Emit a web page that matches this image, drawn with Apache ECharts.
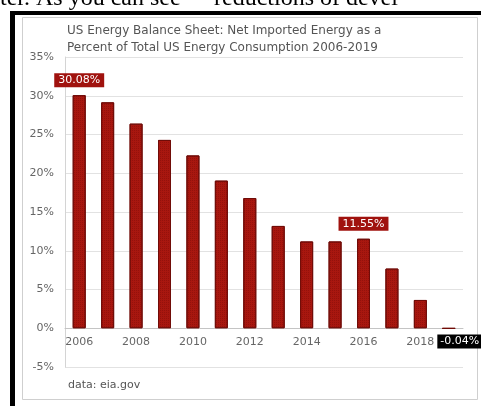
<!DOCTYPE html>
<html>
<head>
<meta charset="utf-8">
<script src="https://cdn.jsdelivr.net/npm/echarts@6/dist/echarts.min.js"></script>
<style>
  html, body { margin: 0; padding: 0; background: #ffffff; }
  #chart { width: 481px; height: 406px; }
</style>
</head>
<body>
<div id="chart"></div>
<script>
// Net imported energy as a share of total US energy consumption
const years = ['2006', '2007', '2008', '2009', '2010', '2011', '2012',
               '2013', '2014', '2015', '2016', '2017', '2018', '2019'];
const netImportShare = [30.08, 29.15, 26.4, 24.3, 22.3, 19.05, 16.8,
                        13.2, 11.2, 11.2, 11.55, 7.7, 3.65, -0.04];
// Years whose value is printed in a tag above/below the bar
const taggedYears = ['2006', '2016', '2019'];
const yAxisMin = -5;
const yAxisMax = 35;
const yAxisStep = 5;

const titleLines = [
  'US Energy Balance Sheet: Net Imported Energy as a',
  'Percent of Total US Energy Consumption 2006-2019'
];
const sourceNote = 'data: eia.gov';
const pageTextLeft = 'ter. As you can see';
const pageTextRight = 'reductions of devel';

const FONT = 'DejaVu Sans';
const BAR_RED = '#a8170f';

const GRID_TOP = 57;
const GRID_BOTTOM = 39;
const CHART_H = 406;

const chart = echarts.init(document.getElementById('chart'), null, { renderer: 'canvas' });

// the category axis sits on the 0% line: shift it up from the bottom edge
const plotH = CHART_H - GRID_TOP - GRID_BOTTOM;
const zeroShift = plotH * (0 - yAxisMin) / (yAxisMax - yAxisMin);

const barData = netImportShare.map((v, i) => {
  const item = { value: v };
  if (taggedYears.includes(years[i])) {
    const negative = v < 0;
    item.label = negative ? {
      show: true,
      position: 'inside',
      offset: [11, 13],
      backgroundColor: '#000000',
      color: '#ffffff',
      padding: [2, 3, 1, 3],
      fontSize: 11,
      fontFamily: FONT,
      formatter: p => p.value.toFixed(2) + '%'
    } : {
      show: true,
      position: 'top',
      distance: 8,
      backgroundColor: '#a0120e',
      color: '#ffffff',
      padding: [2, 4, 1, 4],
      fontSize: 11,
      fontFamily: FONT,
      formatter: p => p.value.toFixed(2) + '%'
    };
  }
  return item;
});

chart.setOption({
  animation: false,
  backgroundColor: '#ffffff',
  aria: { enabled: true, decal: { show: true } },
  title: {
    text: titleLines.join('\n'),
    left: 67,
    top: 22,
    padding: 0,
    textStyle: {
      fontFamily: FONT,
      fontSize: 12,
      fontWeight: 'normal',
      color: '#555555',
      lineHeight: 17
    }
  },
  grid: { left: 65, right: 18, top: GRID_TOP, bottom: GRID_BOTTOM, containLabel: false },
  xAxis: {
    type: 'category',
    data: years,
    position: 'bottom',
    offset: -zeroShift,
    axisLine: { show: true, onZero: false, lineStyle: { color: '#c4c4c4', width: 1 } },
    axisTick: { show: false },
    axisLabel: {
      interval: 1,
      margin: 8,
      color: '#666666',
      fontSize: 11,
      fontFamily: FONT
    },
    splitLine: { show: false }
  },
  yAxis: {
    type: 'value',
    min: yAxisMin,
    max: yAxisMax,
    interval: yAxisStep,
    axisLine: { show: true, lineStyle: { color: '#d4d4d4' } },
    axisTick: { show: false },
    axisLabel: {
      margin: 11,
      color: '#666666',
      fontSize: 11,
      fontFamily: FONT,
      formatter: '{value}%'
    },
    splitLine: { show: true, lineStyle: { color: '#e2e2e2', width: 1 } }
  },
  series: [{
    type: 'bar',
    data: barData,
    barWidth: 13,
    itemStyle: {
      color: BAR_RED,
      borderColor: '#700c08',
      borderWidth: 1,
      decal: {
        symbol: 'rect',
        symbolSize: 1,
        dashArrayX: [1, 1],
        dashArrayY: [1, 1],
        rotation: 0,
        color: 'rgba(90, 0, 0, 0.25)'
      }
    }
  }],
  graphic: [
    // thick black page frame (top and left edges)
    { type: 'rect', shape: { x: 10, y: 11, width: 471, height: 4 }, style: { fill: '#000000' }, z: 100 },
    { type: 'rect', shape: { x: 10, y: 11, width: 5, height: 395 }, style: { fill: '#000000' }, z: 100 },
    // light inner panel outline
    { type: 'rect', shape: { x: 22.5, y: 17.5, width: 455, height: 382 },
      style: { fill: 'none', stroke: '#cfcfcf', lineWidth: 1 }, z: -10 },
    // clipped page text above the frame
    { type: 'text', x: 0, y: 11, style: {
        text: pageTextLeft, fill: '#000000', font: '24px "Liberation Serif"',
        verticalAlign: 'bottom', align: 'left' }, z: 90 },
    { type: 'text', x: 214, y: 11, style: {
        text: pageTextRight, fill: '#000000', font: '24px "Liberation Serif"',
        verticalAlign: 'bottom', align: 'left' }, z: 90 },
    // source note
    { type: 'text', x: 68, y: 385, style: {
        text: sourceNote, fill: '#555555', font: '11px "DejaVu Sans"',
        verticalAlign: 'middle', align: 'left' } }
  ]
});
</script>
</body>
</html>
